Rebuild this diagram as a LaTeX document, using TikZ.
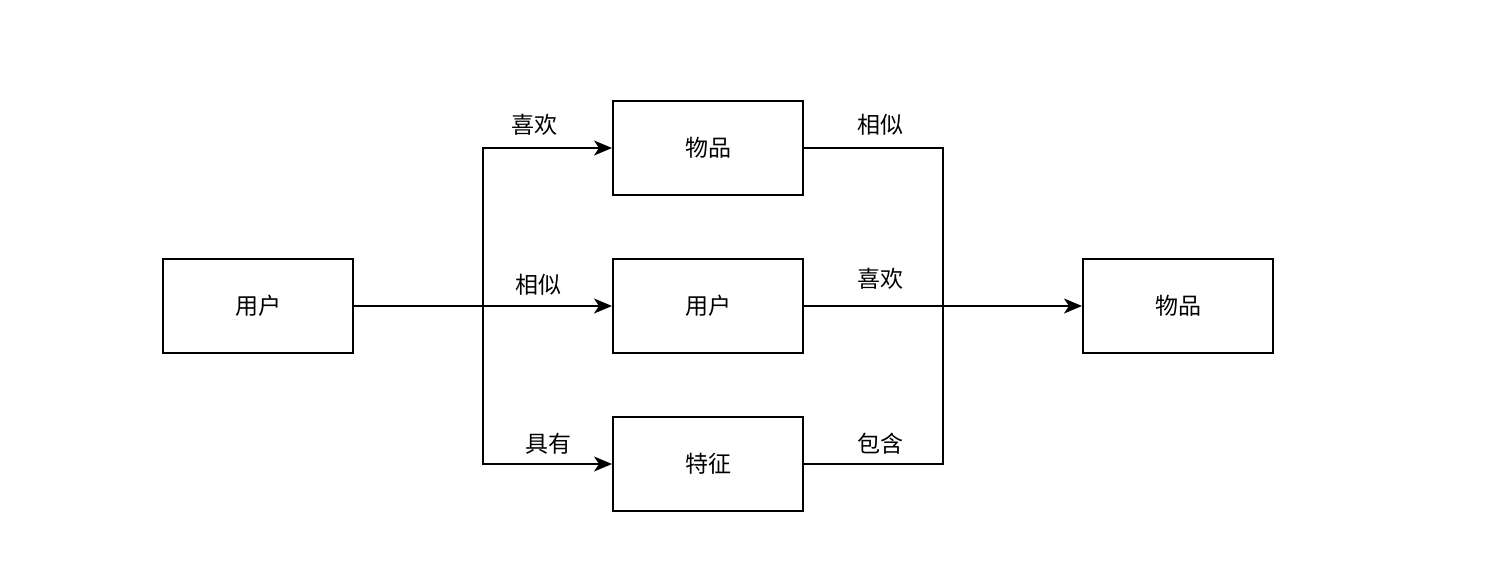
\documentclass[tikz,border=0pt]{standalone}
\usepackage{fontspec}
\newfontfamily\cjk{Noto Sans CJK SC}
\usetikzlibrary{arrows.meta}
\begin{document}
\begin{tikzpicture}[x=0.5pt,y=-0.5pt,
  box/.style={draw,line width=1pt,minimum width=95pt,minimum height=47pt,inner sep=0pt,font=\cjk\fontsize{11.5}{13}\selectfont},
  lbl/.style={font=\cjk\fontsize{11.5}{13}\selectfont,inner sep=0pt},
  conn/.style={line width=1pt},
  arr/.style={line width=1pt,-{Stealth[length=9pt,width=7.5pt,inset=2.5pt]}}]
\useasboundingbox (0,0) rectangle (1508,584);
\node[box] (u1) at (258,306) {用户};
\node[box] (i1) at (708,148) {物品};
\node[box] (u2) at (708,306) {用户};
\node[box] (f) at (708,464) {特征};
\node[box] (i2) at (1178,306) {物品};
\coordinate (bl) at (483,306);
\coordinate (br) at (943,306);
\draw[conn] (u1.east) -- (bl);
\draw[arr] (bl) |- (i1.west);
\draw[arr] (bl) -- (u2.west);
\draw[arr] (bl) |- (f.west);
\draw[conn] (i1.east) -| (br);
\draw[conn] (f.east) -| (br);
\draw[arr] (u2.east) -- (i2.west);
\node[lbl] (l1) at (534,125) {喜欢};
\node[lbl] (l2) at (538,285) {相似};
\node[lbl] (l3) at (548,444) {具有};
\node[lbl] (l4) at (880,125) {相似};
\node[lbl] (l5) at (880,279) {喜欢};
\node[lbl] (l6) at (880,444) {包含};
\end{tikzpicture}
\end{document}
